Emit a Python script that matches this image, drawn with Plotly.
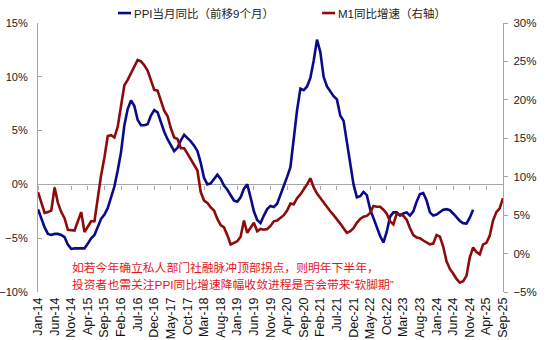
import pandas as pd
import plotly.graph_objects as go

# Monthly axis: Jan-2014 .. Sep-2025
months = pd.date_range("2014-01-01", periods=141, freq="MS")
month_labels = [d.strftime("%b-%y") for d in months]

# PPI YoY, shifted forward 9 months (%), left axis
ppi_yoy_lead9 = [
    -2.3, -3.1, -4.0, -4.6, -4.7, -4.6, -4.6, -4.7, -4.9, -5.6,
    -6.0, -5.95, -5.95, -5.95, -5.95, -5.5, -5.0, -4.7, -3.9, -3.2,
    -2.8, -2.2, -1.2, -0.2, 1.3, 3.0, 5.5, 7.0, 7.8, 7.3,
    6.0, 5.5, 5.5, 5.6, 6.4, 6.9, 6.7, 5.7, 4.9, 4.2,
    3.6, 3.1, 3.4, 4.1, 4.6, 4.3, 4.0, 3.6, 3.1, 2.0,
    0.6, 0.0, 0.1, 0.5, 0.9, 0.5, -0.1, -0.5, -1.0, -1.5,
    -1.6, -1.2, -0.4, 0.0, -1.2, -2.5, -3.3, -3.6, -2.9, -2.3,
    -2.0, -2.1, -1.8, -1.0, -0.2, 0.7, 1.6, 4.4, 6.9, 8.9,
    8.75, 9.1, 9.9, 11.5, 13.45, 12.3, 10.0, 9.1, 8.6, 8.2,
    7.9, 6.4, 5.9, 3.8, 1.8, 0.0, -1.2, -1.1, -0.7, -1.0,
    -2.3, -3.2, -4.0, -4.8, -5.4, -4.4, -3.0, -2.6, -2.6, -2.9,
    -2.7, -2.6, -2.9, -2.5, -1.6, -0.9, -0.8, -1.5, -2.6, -2.9,
    -2.8, -2.6, -2.35, -2.3, -2.4, -2.7, -3.1, -3.4, -3.6, -3.65,
    -3.1, -2.35,
]

# M1 YoY growth (%), right axis
m1_yoy = [
    8.0, 6.6, 5.3, 5.4, 5.6, 8.6, 6.6, 5.4, 4.6, 3.1,
    3.0, 3.0, 4.2, 5.4, 2.8, 3.6, 4.2, 4.2, 7.5, 10.2,
    12.5, 15.3, 15.4, 15.1, 16.5, 19.5, 21.9, 22.6, 23.4, 24.4,
    25.2, 25.0, 24.5, 23.8, 22.6, 21.3, 21.2, 20.0, 18.6, 17.9,
    16.3, 15.1, 14.9, 13.7, 13.7, 13.0, 12.3, 11.5, 10.8, 8.0,
    6.9, 6.6, 6.0, 5.6, 4.5, 3.7, 3.4, 2.4, 1.2, 1.4,
    1.6, 2.2, 4.3, 2.7, 3.4, 4.0, 2.9, 3.2, 3.1, 3.2,
    3.6, 4.2, 4.3, 4.6, 5.0, 5.6, 6.5, 6.4, 7.2, 7.7,
    8.3, 9.0, 9.8, 8.6, 7.8, 7.2, 6.6, 6.1, 5.5, 5.0,
    4.5, 3.9, 3.3, 2.7, 2.9, 3.3, 4.0, 4.5, 4.8, 4.9,
    5.3, 6.2, 6.1, 6.1, 5.7, 5.2, 4.2, 3.8, 5.2, 5.1,
    4.9, 4.4, 3.3, 2.4, 2.1, 2.0, 1.7, 1.4, 1.2, 1.3,
    2.4, 2.2, 0.9, -1.0, -2.0, -2.6, -3.3, -3.8, -3.6, -2.9,
    -0.5, 0.8, 0.2, -0.1, 1.2, 1.4, 2.3, 4.3, 5.4, 5.9,
    7.2,
]

PPI_NAME = "PPI当月同比（前移9个月）"
M1_NAME = "M1同比增速（右轴）"
NOTE_LINE1 = "如若今年确立私人部门社融脉冲顶部拐点，则明年下半年，"
NOTE_LINE2 = "投资者也需关注PPI同比增速降幅收敛进程是否会带来“软脚期”"

BLUE = "#0B0B8A"
RED = "#8E0B0B"
AXIS_GREY = "#A6A6A6"
FONT = "Arial, 'Liberation Sans', 'Noto Sans CJK SC', sans-serif"

x_idx = list(range(len(months)))
tick_pos = x_idx[::5]
tick_txt = month_labels[::5]
xrange = [0, len(months) - 1]

fig = go.Figure()

fig.add_trace(go.Scatter(
    x=x_idx[:len(ppi_yoy_lead9)], y=ppi_yoy_lead9, name=PPI_NAME,
    mode="lines", line=dict(color=BLUE, width=2.6),
    xaxis="x", yaxis="y",
))
fig.add_trace(go.Scatter(
    x=x_idx[:len(m1_yoy)], y=m1_yoy, name=M1_NAME,
    mode="lines", line=dict(color=RED, width=2.6),
    xaxis="x2", yaxis="y2",
))

fig.update_layout(
    width=550, height=340,
    margin=dict(l=38, r=47, t=23, b=48, autoexpand=False),
    paper_bgcolor="white", plot_bgcolor="white",
    showlegend=False,
    font=dict(family=FONT, color="#222222"),
    xaxis=dict(
        range=xrange, showgrid=False, zeroline=False, showline=False,
        tickmode="array", tickvals=tick_pos, ticktext=tick_txt,
        tickangle=-90, ticks="", tickfont=dict(size=12.5, color="#111111"),
        ticklabelstandoff=2, automargin=False,
    ),
    # horizontal axis line drawn through the 0% level of the left axis
    xaxis2=dict(
        range=xrange, overlaying="x", anchor="free", position=0.4,
        side="bottom", showgrid=False, zeroline=False,
        showline=True, linecolor=AXIS_GREY, linewidth=1.2,
        tickmode="array", tickvals=tick_pos, ticks="outside",
        ticklen=4, tickcolor=AXIS_GREY, showticklabels=False,
        layer="below traces", automargin=False,
    ),
    yaxis=dict(
        range=[-10, 15], dtick=5, ticksuffix="%",
        showgrid=False, zeroline=False,
        showline=True, linecolor=AXIS_GREY, linewidth=1.2,
        ticks="inside", ticklen=4, tickcolor=AXIS_GREY,
        tickfont=dict(size=11), ticklabelstandoff=7, automargin=False,
    ),
    yaxis2=dict(
        range=[-5, 30], dtick=5, ticksuffix="%",
        overlaying="y", side="right", anchor="x2",
        showgrid=False, zeroline=False,
        showline=True, linecolor=AXIS_GREY, linewidth=1.2,
        ticks="outside", ticklen=4, tickcolor=AXIS_GREY,
        tickfont=dict(size=11.5), ticklabelstandoff=3, automargin=False,
    ),
)

# legend swatches and labels along the top
legend_y = 1.037
for x0, x1, color, label in [
    (0.172, 0.200, BLUE, PPI_NAME),
    (0.611, 0.639, RED, M1_NAME),
]:
    fig.add_shape(type="line", xref="paper", yref="paper",
                  x0=x0, x1=x1, y0=legend_y, y1=legend_y,
                  line=dict(color=color, width=2.6))
    fig.add_annotation(xref="paper", yref="paper", x=x1 + 0.002, y=legend_y,
                       xanchor="left", yanchor="middle", showarrow=False,
                       text=label, font=dict(size=11.5, color="#222222"))

# commentary in red inside the plot
for yv, line in [(0.089, NOTE_LINE1), (0.026, NOTE_LINE2)]:
    fig.add_annotation(xref="paper", yref="paper", x=0.069, y=yv,
                       xanchor="left", yanchor="middle", showarrow=False,
                       text=line, font=dict(size=11.8, color="#E3171C"))

fig.write_html("out.html")
